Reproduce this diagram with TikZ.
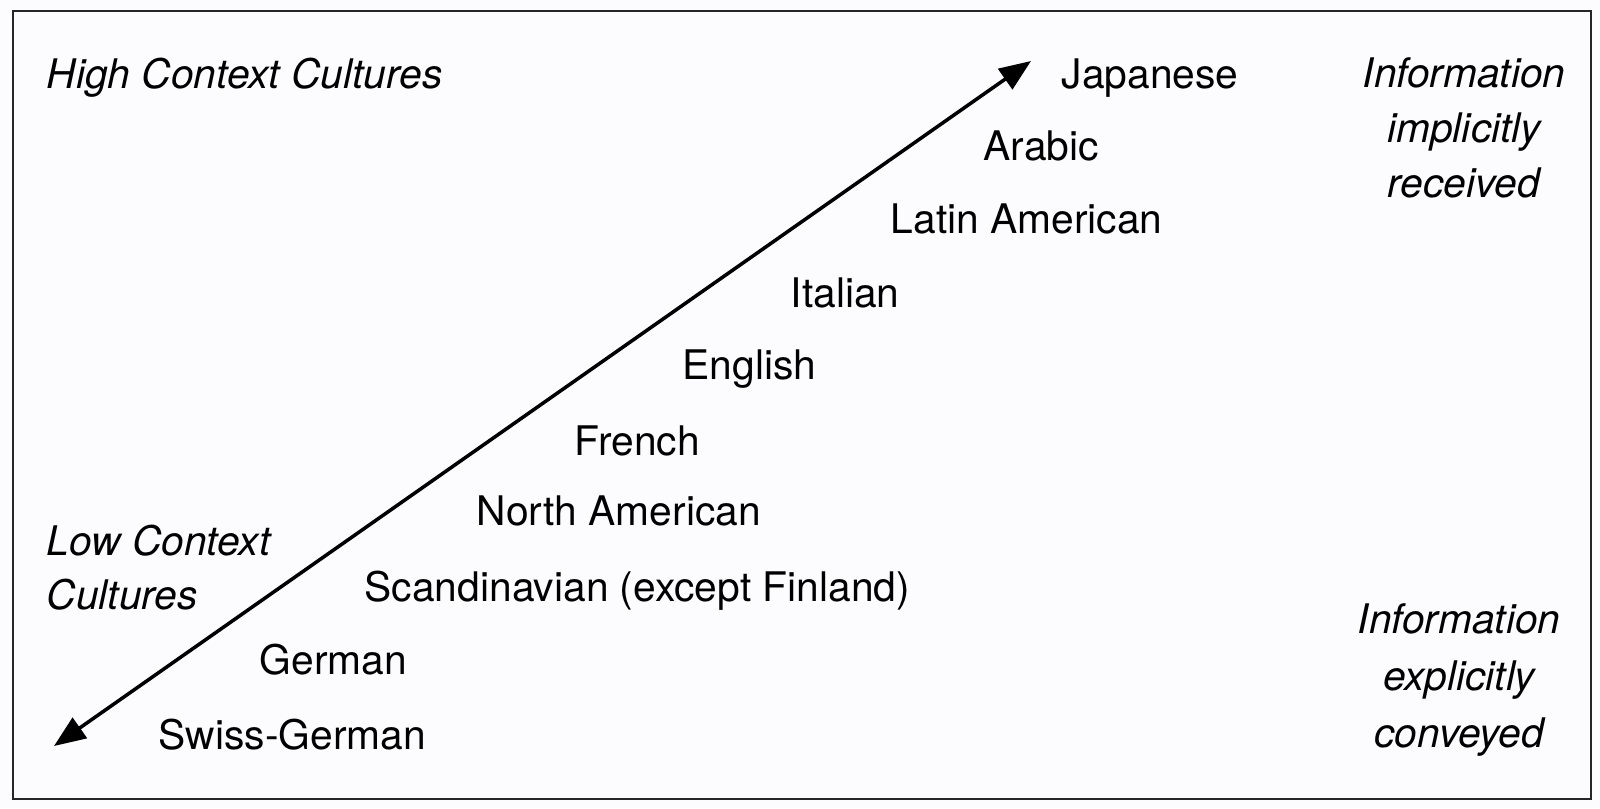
\documentclass[tikz,border=0pt]{standalone}
\usepackage{xcolor}
\usepackage{fontspec}
\setmainfont{TeX Gyre Heros}
\usepackage{tikz}
\usetikzlibrary{arrows.meta,positioning}
\definecolor{paper}{RGB}{252,251,254}
\tikzset{
  frame-box/.style={draw=black!85, fill=paper, line width=0.7pt},
  context-axis/.style={line width=1pt, {Triangle[length=9pt,width=7pt]}-{Triangle[length=9pt,width=7pt]}},
  culture-label/.style={anchor=base west, inner sep=0pt, font=\fontsize{11.6}{15.4}\selectfont},
  context-label/.style={anchor=west, inner sep=0pt, align=left, font=\fontsize{11.6}{15.4}\selectfont\itshape},
  info-label/.style={inner sep=0pt, align=center, font=\fontsize{11.6}{15.6}\selectfont\itshape}
}

\begin{document}
\begin{tikzpicture}
  \useasboundingbox[fill=paper] (0,0) rectangle (16,-8.08);
  \node[frame-box, minimum width=15.78cm, minimum height=7.88cm, anchor=north west] (frame) at (0.12,-0.10) {};
  \coordinate (lowend) at (0.54,-7.46);
  \coordinate (highend) at (10.31,-0.61);
  \draw[context-axis] (lowend) -- (highend);
  \node[context-label] (high) at (0.46,-0.78) {High Context Cultures};
  \node[context-label] (low) at (0.46,-5.68) {Low Context\\Cultures};
  \node[culture-label] (japanese) at (10.61,-0.885) {Japanese};
  \node[culture-label] (arabic) at (9.83,-1.60) {Arabic};
  \node[culture-label] (latin) at (8.90,-2.33) {Latin American};
  \node[culture-label] (italian) at (7.90,-3.07) {Italian};
  \node[culture-label] (english) at (6.82,-3.79) {English};
  \node[culture-label] (french) at (5.74,-4.55) {French};
  \node[culture-label] (northam) at (4.76,-5.25) {North American};
  \node[culture-label] (scandi) at (3.64,-6.01) {Scandinavian (except Finland)};
  \node[culture-label] (german) at (2.59,-6.74) {German};
  \node[culture-label] (swiss) at (1.58,-7.49) {Swiss-German};
  \node[info-label] (implicit) at (14.64,-1.28) {Information\\implicitly\\received};
  \node[info-label, font=\fontsize{11.6}{16.2}\selectfont\itshape] (explicit) at (14.59,-6.80) {Information\\explicitly\\conveyed};
\end{tikzpicture}
\end{document}
